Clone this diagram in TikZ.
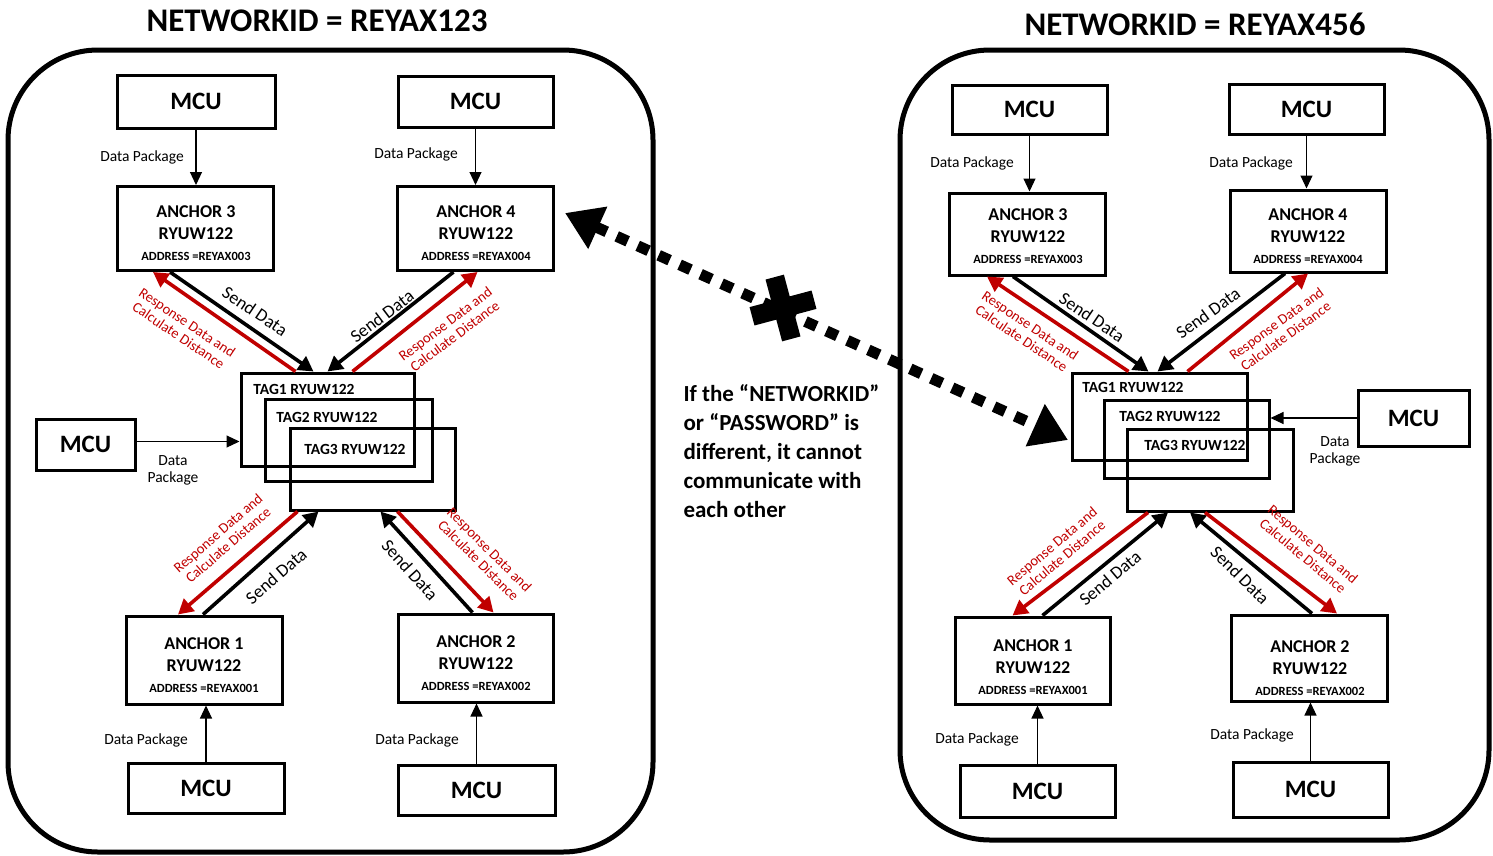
\documentclass[tikz,border=0pt]{standalone}
\usepackage{fontspec}
\setmainfont{Carlito}
\usetikzlibrary{arrows.meta}
\definecolor{myred}{HTML}{C00000}
\newcommand\ancbig{\fontsize{18}{22}\selectfont}
\newcommand\ancsmall{\fontsize{12.5}{15}\selectfont}
\newcommand\anctext[2]{\ancbig ANCHOR #1\\\ancbig RYUW122\\[-1pt]\ancsmall ADDRESS =REYAX#2}
\begin{document}
\begin{tikzpicture}[x=1pt,y=-1pt,
  box/.style={draw, line width=3pt, inner sep=0pt, align=center, font=\bfseries},
  mcu/.style={box, font=\bfseries\fontsize{25}{28}\selectfont},
  anch/.style={draw, line width=3pt, inner sep=0pt, minimum width=156pt, minimum height=84pt},
  anchtxt/.style={align=center, inner sep=0pt, font=\bfseries\fontsize{18}{22}\selectfont},
  tagbox/.style={draw, line width=3pt, inner sep=0pt},
  tagtxt/.style={font=\bfseries\fontsize{15.5}{17}\selectfont},
  slim/.style={line width=1.1pt, -{Triangle[length=13pt,width=12pt]}},
  fat/.style={line width=3.6pt, -{Triangle[length=15pt,width=16pt]}},
  blk/.style={fat, black},
  rd/.style={fat, myred},
  lbl/.style={font=\fontsize{15.5}{17}\selectfont, align=center},
  rlbl/.style={font=\fontsize{14.5}{15.5}\selectfont, text=myred, align=center},
  sd/.style={font=\fontsize{18}{20}\selectfont},
  panel/.style={draw, line width=5pt, rounded corners=90pt},
  title/.style={font=\bfseries\fontsize{33}{36}\selectfont}]
\useasboundingbox (0,0) rectangle (1493,855);

% ---------- panels and titles ----------
\draw[panel] (8,50) rectangle (653,852);
\draw[panel] (900,50) rectangle (1489,840);
\node[title] (t1) at (317,21) {NETWORKID = REYAX123};
\node[title] (t2) at (1195,24) {NETWORKID = REYAX456};

% ---------- left network ----------
\node[mcu, minimum width=158pt, minimum height=53pt] (m1) at (196,101.5) {MCU};
\node[mcu, minimum width=155pt, minimum height=51pt] (m2) at (475.5,101.5) {MCU};
\node[mcu, minimum width=99pt, minimum height=51pt] (m5) at (85.5,444.5) {MCU};
\node[mcu, minimum width=156pt, minimum height=50pt] (m3) at (206,788) {MCU};
\node[mcu, minimum width=157pt, minimum height=50pt] (m4) at (476.5,790) {MCU};

\node[anch] (a3) at (195,228.5) {};
\node[anch] (a4) at (475.5,228.5) {};
\node[anch, minimum height=88pt] (a1) at (204,660) {};
\node[anch, minimum width=155pt, minimum height=88pt] (a2) at (475.5,658) {};
\node[anchtxt] (a3t) at (196,233) {\anctext{3}{003}};
\node[anchtxt] (a4t) at (476,233) {\anctext{4}{004}};
\node[anchtxt] (a1t) at (204,665) {\anctext{1}{001}};
\node[anchtxt] (a2t) at (476,663) {\anctext{2}{002}};

\node[tagbox, minimum width=173pt, minimum height=93pt] (g1) at (327.5,419.5) {};
\node[tagbox, minimum width=167pt, minimum height=82pt] (g2) at (348.5,440) {};
\node[tagbox, minimum width=165pt, minimum height=82pt] (g3) at (372.5,469) {};
\node[tagtxt] (g1t) at (304,389) {TAG1 RYUW122};
\node[tagtxt] (g2t) at (327,417) {TAG2 RYUW122};
\node[tagtxt] (g3t) at (355,449) {TAG3 RYUW122};

\draw[slim] (m1.south) -- (m1.south |- a3.north);
\draw[slim] (m2.south) -- (m2.south |- a4.north);
\draw[slim] (m3.north) -- (m3.north |- a1.south);
\draw[slim] (m4.north) -- (m4.north |- a2.south);
\draw[slim] ([yshift=3pt]m5.east) -- ([yshift=3pt]m5.east -| g1.west);
\node[lbl] (d1) at (142,157) {Data Package};
\node[lbl] (d2) at (416,154) {Data Package};
\node[lbl] (d3) at (146,740) {Data Package};
\node[lbl] (d4) at (417,740) {Data Package};
\node[lbl] (d5) at (173,470) {Data\\Package};

\draw[blk] ([xshift=-25pt]a3.south) -- ([xshift=-14pt]g1.north);
\draw[rd] ([xshift=-32pt]g1.north) -- ([xshift=-42pt]a3.south);
\draw[blk] ([xshift=-22pt]a4.south) -- ([xshift=0pt]g1.north);
\draw[rd] ([xshift=25pt]g1.north) -- ([xshift=2pt]a4.south);
\draw[rd] ([xshift=-75pt]g3.south) -- ([xshift=-26pt]a1.north);
\draw[blk] ([xshift=-1pt]a1.north) -- ([xshift=-54pt]g3.south);
\draw[blk] ([xshift=-3pt]a2.north) -- ([xshift=8pt]g3.south);
\draw[rd] ([xshift=25pt]g3.south) -- ([xshift=18pt]a2.north);

\node[sd, rotate=-34] (s1) at (255,311) {Send Data};
\node[rlbl, rotate=-34] (r1) at (183,329) {Response Data and\\Calculate Distance};
\node[sd, rotate=37] (s2) at (382,316) {Send Data};
\node[rlbl, rotate=37] (r2) at (450,330) {Response Data and\\Calculate Distance};
\node[sd, rotate=41] (s3) at (276,576) {Send Data};
\node[rlbl, rotate=41] (r3) at (223,539) {Response Data and\\Calculate Distance};
\node[sd, rotate=-48] (s4) at (410,570) {Send Data};
\node[rlbl, rotate=-45] (r4) at (484,555) {Response Data and\\Calculate Distance};

% ---------- right network ----------
\node[mcu, minimum width=155pt, minimum height=49pt] (n1) at (1029.5,109.5) {MCU};
\node[mcu, minimum width=155pt, minimum height=50pt] (n2) at (1306.5,109) {MCU};
\node[mcu, minimum width=111pt, minimum height=56pt] (n5) at (1413.5,418) {MCU};
\node[mcu, minimum width=155pt, minimum height=52pt] (n3) at (1037.5,791) {MCU};
\node[mcu, minimum width=155pt, minimum height=55pt] (n4) at (1310.5,789.5) {MCU};

\node[anch, minimum height=82pt] (b3) at (1027,234) {};
\node[anch, minimum height=82pt] (b4) at (1308,231) {};
\node[anch, minimum width=155pt, minimum height=87pt] (b1) at (1032.5,660.5) {};
\node[anch, minimum height=86pt] (b2) at (1309,658) {};
\node[anchtxt] (b3t) at (1028,236) {\anctext{3}{003}};
\node[anchtxt] (b4t) at (1308,236) {\anctext{4}{004}};
\node[anchtxt] (b1t) at (1033,667) {\anctext{1}{001}};
\node[anchtxt] (b2t) at (1310,668) {\anctext{2}{002}};

\node[tagbox, minimum width=175pt, minimum height=87pt] (h1) at (1159.5,416.5) {};
\node[tagbox, minimum width=165pt, minimum height=78pt] (h2) at (1186.5,439) {};
\node[tagbox, minimum width=166pt, minimum height=82pt] (h3) at (1210,470) {};
\node[tagtxt] (h1t) at (1133,387) {TAG1 RYUW122};
\node[tagtxt] (h2t) at (1170,416) {TAG2 RYUW122};
\node[tagtxt] (h3t) at (1195,445) {TAG3 RYUW122};

\draw[slim] (n1.south) -- (n1.south |- b3.north);
\draw[slim] (n2.south) -- (n2.south |- b4.north);
\draw[slim] (n3.north) -- (n3.north |- b1.south);
\draw[slim] (n4.north) -- (n4.north |- b2.south);
\draw[slim] (n5.west) -- (n5.west -| h2.east);
\node[lbl] (e1) at (972,163) {Data Package};
\node[lbl] (e2) at (1251,163) {Data Package};
\node[lbl] (e3) at (977,739) {Data Package};
\node[lbl] (e4) at (1252,735) {Data Package};
\node[lbl] (e5) at (1335,451) {Data\\Package};

\draw[blk] ([xshift=-14pt]b3.south) -- ([xshift=-11pt]h1.north);
\draw[rd] ([xshift=-31pt]h1.north) -- ([xshift=-40pt]b3.south);
\draw[blk] ([xshift=-23pt]b4.south) -- ([xshift=-2pt]h1.north);
\draw[rd] ([xshift=28pt]h1.north) -- ([xshift=0pt]b4.south);
\draw[rd] ([xshift=-62pt]h3.south) -- ([xshift=-20pt]b1.north);
\draw[blk] ([xshift=10pt]b1.north) -- ([xshift=-42pt]h3.south);
\draw[blk] ([xshift=3pt]b2.north) -- ([xshift=-20pt]h3.south);
\draw[rd] ([xshift=-5pt]h3.south) -- ([xshift=28pt]b2.north);

\node[sd, rotate=-34] (u1) at (1092,317) {Send Data};
\node[rlbl, rotate=-34] (v1) at (1026,332) {Response Data and\\Calculate Distance};
\node[sd, rotate=36] (u2) at (1208,313) {Send Data};
\node[rlbl, rotate=36] (v2) at (1281,330) {Response Data and\\Calculate Distance};
\node[sd, rotate=40] (u3) at (1110,578) {Send Data};
\node[rlbl, rotate=40] (v3) at (1057,552) {Response Data and\\Calculate Distance};
\node[sd, rotate=-45] (u4) at (1240,575) {Send Data};
\node[rlbl, rotate=-40] (v4) at (1308,550) {Response Data and\\Calculate Distance};

% ---------- blocked link ----------
\coordinate (dL) at (565,213);
\coordinate (dR) at (1068,440);
\draw[line width=11pt, dash pattern=on 12pt off 11pt,
  {Triangle[length=36pt,width=44pt]}-{Triangle[length=36pt,width=44pt]}] (dL) -- (dR);
\coordinate (xc) at (783,308);
\draw[line width=19pt] (752,316.3) -- (814,299.7);
\draw[line width=19pt] (774.7,277.1) -- (791.3,338.9);

\node[anchor=north west, align=left, font=\bfseries\fontsize{23}{29}\selectfont] (msg) at (680,381)
  {If the “NETWORKID”\\or “PASSWORD” is\\different, it cannot\\communicate with\\each other};
\end{tikzpicture}
\end{document}
